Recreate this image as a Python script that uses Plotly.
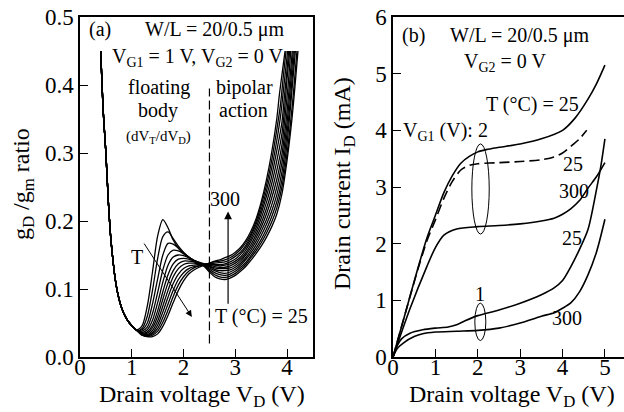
import plotly.graph_objects as go

# ---------------- Panel (a): gD/gm ratio vs drain voltage ----------------
T_LEFT = [25, 50, 75, 100, 125, 150, 175, 200, 225, 250, 275, 300]

GD_START_X = [0.40, 0.45, 0.50, 0.55, 0.60, 0.70, 0.80, 0.90, 1.00]
GD_START_Y = [0.450, 0.360, 0.300, 0.225, 0.170, 0.105, 0.073, 0.056, 0.046]

GD_MID_X = [1.1, 1.2, 1.3, 1.4, 1.5, 1.6, 1.7, 1.8, 1.9, 2.0, 2.1, 2.2, 2.3, 2.4,
            2.5, 2.6, 2.7, 2.8, 2.9, 3.0, 3.1, 3.2, 3.3, 3.4, 3.5, 3.6, 3.7, 3.8]
GD_MID_Y = [
    [.040, .046, .075, .125, .178, .202, .190, .172, .160, .152, .146, .141, .137, .133, .125, .118, .115, .114, .116,
     .120, .126, .133, .142, .152, .163, .176, .191, .210],
    [.039, .042, .060, .098, .145, .177, .184, .174, .163, .154, .147, .142, .138, .134, .127, .121, .118, .117, .119,
     .123, .129, .136, .146, .156, .168, .182, .198, .219],
    [.039, .040, .050, .078, .115, .150, .167, .166, .160, .153, .147, .142, .138, .135, .129, .124, .121, .120, .122,
     .126, .132, .139, .149, .160, .173, .188, .206, .228],
    [.039, .038, .044, .064, .095, .128, .150, .157, .156, .152, .147, .142, .139, .136, .131, .127, .124, .123, .125,
     .129, .135, .143, .153, .165, .179, .195, .214, .238],
    [.039, .036, .040, .054, .080, .110, .135, .147, .150, .149, .146, .142, .139, .136, .133, .129, .127, .127, .128,
     .132, .138, .146, .157, .170, .185, .202, .223, .249],
    [.039, .035, .037, .047, .068, .096, .121, .137, .144, .145, .144, .141, .139, .137, .134, .131, .130, .130, .131,
     .135, .141, .150, .161, .175, .191, .210, .233, .261],
    [.039, .034, .035, .043, .060, .085, .109, .127, .137, .141, .141, .140, .138, .137, .135, .133, .132, .132, .134,
     .138, .144, .153, .165, .180, .197, .218, .243, .274],
    [.039, .034, .033, .039, .053, .075, .098, .118, .130, .136, .138, .138, .137, .136, .136, .135, .134, .135, .137,
     .141, .147, .157, .170, .185, .204, .227, .254, .288],
    [.039, .033, .032, .036, .047, .066, .088, .108, .122, .130, .134, .135, .136, .136, .136, .136, .136, .137, .140,
     .144, .151, .161, .174, .190, .211, .236, .265, .303],
    [.039, .033, .031, .034, .042, .058, .078, .098, .114, .124, .130, .133, .134, .136, .137, .138, .139, .140, .143,
     .148, .154, .164, .178, .195, .217, .244, .277, .318],
    [.039, .032, .030, .032, .038, .051, .069, .089, .106, .118, .126, .131, .134, .136, .138, .140, .141, .143, .146,
     .151, .158, .168, .181, .199, .223, .252, .288, .334],
    [.039, .032, .030, .030, .034, .045, .061, .080, .098, .112, .122, .128, .132, .135, .138, .141, .143, .146, .149,
     .154, .161, .171, .185, .203, .228, .260, .300, .350],
]
GD_TAIL_X = [
    [3.90, 4.00, 4.10, 4.21],
    [3.90, 4.00, 4.10, 4.19],
    [3.90, 4.00, 4.08, 4.16],
    [3.90, 4.00, 4.07, 4.14],
    [3.90, 4.00, 4.06, 4.12],
    [3.90, 4.00, 4.05, 4.10],
    [3.90, 3.97, 4.02, 4.07],
    [3.90, 3.96, 4.00, 4.05],
    [3.90, 3.95, 3.99, 4.03],
    [3.88, 3.94, 4.01],
    [3.87, 3.93, 3.98],
    [3.85, 3.90, 3.96],
]
GD_TAIL_Y = [
    [.240, .290, .355, .450],
    [.250, .300, .370, .450],
    [.260, .315, .380, .450],
    [.272, .330, .385, .450],
    [.285, .345, .395, .450],
    [.298, .362, .405, .450],
    [.312, .360, .400, .450],
    [.328, .372, .410, .450],
    [.345, .385, .415, .450],
    [.358, .400, .450],
    [.370, .415, .450],
    [.385, .415, .450],
]

# ---------------- Panel (b): drain current vs drain voltage ----------------
VG2_25_X = [0, 0.3, 0.6, 0.8, 1.0, 1.2, 1.4, 1.6, 1.8, 2.0, 2.2, 2.5, 3.0, 3.5, 4.0, 4.3, 4.6, 4.8, 5.0]
VG2_25_Y = [0, 0.80, 1.60, 2.10, 2.50, 2.90, 3.20, 3.42, 3.54, 3.62, 3.66, 3.70, 3.76, 3.85, 4.00, 4.22, 4.55, 4.82, 5.15]

VG2_25D_X = [0, 0.3, 0.6, 0.8, 1.0, 1.2, 1.4, 1.6, 1.8, 2.0, 2.5, 3.0, 3.5, 3.8, 4.0, 4.2, 4.4, 4.57]
VG2_25D_Y = [0, 0.80, 1.58, 2.05, 2.42, 2.80, 3.10, 3.30, 3.38, 3.41, 3.43, 3.45, 3.48, 3.53, 3.60, 3.72, 3.85, 4.00]

VG2_300_X = [0, 0.4, 0.8, 1.0, 1.2, 1.5, 2.0, 2.5, 3.0, 3.5, 3.8, 4.0, 4.2, 4.4, 4.6, 4.8, 5.0]
VG2_300_Y = [0, 0.85, 1.60, 1.93, 2.15, 2.26, 2.30, 2.32, 2.35, 2.40, 2.45, 2.52, 2.62, 2.76, 2.98, 3.18, 3.43]

VG1_25_X = [0, 0.1, 0.2, 0.4, 0.7, 1.0, 1.3, 1.5, 1.7, 2.0, 2.5, 3.0, 3.5, 3.8, 4.0, 4.2, 4.4, 4.6, 4.8, 4.9, 5.0]
VG1_25_Y = [0, 0.20, 0.32, 0.42, 0.48, 0.51, 0.53, 0.57, 0.64, 0.73, 0.83, 0.95, 1.10, 1.22, 1.35, 1.60, 1.90, 2.25, 2.95, 3.35, 3.85]

VG1_300_X = [0, 0.1, 0.25, 0.5, 0.7, 1.0, 1.5, 2.0, 2.5, 3.0, 3.5, 3.8, 4.0, 4.2, 4.4, 4.6, 4.8, 5.0]
VG1_300_Y = [0, 0.15, 0.25, 0.36, 0.41, 0.44, 0.455, 0.47, 0.51, 0.60, 0.72, 0.78, 0.86, 0.96, 1.15, 1.45, 1.85, 2.43]

X_TICKS_A = [0, 1, 2, 3, 4]
Y_TICKS_A = [0.0, 0.1, 0.2, 0.3, 0.4, 0.5]
X_TICKS_B = [0, 1, 2, 3, 4, 5]
Y_TICKS_B = [0, 1, 2, 3, 4, 5, 6]

FONT = "Liberation Serif"
BLACK = "#000000"

fig = go.Figure()

for i, t in enumerate(T_LEFT):
    xs = GD_START_X + GD_MID_X + GD_TAIL_X[i]
    ys = GD_START_Y + GD_MID_Y[i] + GD_TAIL_Y[i]
    fig.add_trace(go.Scatter(x=xs, y=ys, mode="lines", name=f"{t} °C",
                             line=dict(color=BLACK, width=1.3, shape="spline", smoothing=0.8),
                             xaxis="x", yaxis="y", showlegend=False))

for xs, ys, dash in [(VG2_25_X, VG2_25_Y, "solid"), (VG2_25D_X, VG2_25D_Y, "10px,5px"),
                     (VG2_300_X, VG2_300_Y, "solid"), (VG1_25_X, VG1_25_Y, "solid"),
                     (VG1_300_X, VG1_300_Y, "solid")]:
    fig.add_trace(go.Scatter(x=xs, y=ys, mode="lines",
                             line=dict(color=BLACK, width=1.6, shape="spline", smoothing=0.8, dash=dash),
                             xaxis="x2", yaxis="y2", showlegend=False))

axis_common = dict(showgrid=False, zeroline=False, showline=True, linecolor=BLACK, linewidth=1.5,
                   mirror=True, ticks="inside", ticklen=8, tickwidth=1.2, tickcolor=BLACK,
                   automargin=False,
                   tickfont=dict(family=FONT, size=23, color=BLACK))

fig.update_layout(
    width=624, height=412,
    margin=dict(l=80, r=0, t=17, b=55),
    paper_bgcolor="white", plot_bgcolor="white",
    font=dict(family=FONT, color=BLACK),
    xaxis=dict(domain=[0, 0.4283], range=[0, 4.5], tickvals=X_TICKS_A, anchor="y",
               ticklabelstandoff=-11, **axis_common),
    yaxis=dict(domain=[0, 1], range=[0, 0.5], tickvals=Y_TICKS_A, tickformat=".1f", anchor="x", **axis_common),
    xaxis2=dict(domain=[0.5754, 1], range=[0, 5.45], tickvals=X_TICKS_B, anchor="y2",
                ticklabelstandoff=-11, **axis_common),
    yaxis2=dict(domain=[0, 1], range=[0, 6], tickvals=Y_TICKS_B, anchor="x2", **axis_common),
)

shapes = [
    dict(type="line", xref="x", yref="y", x0=2.5, x1=2.5, y0=0.02, y1=0.395,
         line=dict(color=BLACK, width=1.2, dash="9px,4px")),
    dict(type="circle", xref="x2", yref="y2", x0=1.86, x1=2.27, y0=2.17, y1=3.76,
         line=dict(color=BLACK, width=1)),
    dict(type="circle", xref="x2", yref="y2", x0=1.93, x1=2.19, y0=0.29, y1=0.95,
         line=dict(color=BLACK, width=1)),
]
fig.update_layout(shapes=shapes)

def txt(x, y, s, xref="x", yref="y", size=20, xanchor="center"):
    return dict(x=x, y=y, xref=xref, yref=yref, text=s, showarrow=False, xanchor=xanchor,
                yanchor="middle", font=dict(family=FONT, size=size, color=BLACK))

ann = [
    txt(0.14, 0.481, "(a)", xanchor="left"),
    txt(1.21, 0.481, "W/L = 20/0.5 μm", xanchor="left"),
    txt(0.58, 0.441, "V<sub>G1</sub> = 1 V, V<sub>G2</sub> = 0 V", xanchor="left"),
    txt(1.53, 0.397, "floating"),
    txt(1.51, 0.363, "body"),
    txt(1.51, 0.324, "(dV<sub>T</sub>/dV<sub>D</sub>)", size=15),
    txt(3.17, 0.397, "bipolar"),
    txt(3.15, 0.363, "action"),
    txt(1.10, 0.147, "T"),
    txt(2.80, 0.232, "300"),
    txt(2.56, 0.059, "T (°C) = 25", xanchor="left"),
    dict(x=2.16, y=0.059, ax=1.22, ay=0.169, xref="x", yref="y", axref="x", ayref="y",
         showarrow=True, arrowhead=2, arrowsize=1.3, arrowwidth=1, arrowcolor=BLACK, text=""),
    dict(x=2.86, y=0.214, ax=2.86, ay=0.076, xref="x", yref="y", axref="x", ayref="y",
         showarrow=True, arrowhead=2, arrowsize=1.3, arrowwidth=1.2, arrowcolor=BLACK, text=""),
    # panel b
    txt(0.16, 5.68, "(b)", xref="x2", yref="y2", xanchor="left"),
    txt(1.3, 5.68, "W/L = 20/0.5 μm", xref="x2", yref="y2", xanchor="left"),
    txt(2.64, 5.2, "V<sub>G2</sub> = 0 V", xref="x2", yref="y2"),
    txt(4.43, 4.46, "T (°C) = 25", xref="x2", yref="y2", xanchor="right"),
    txt(0.18, 3.98, "V<sub>G1</sub> (V): 2", xref="x2", yref="y2", xanchor="left"),
    txt(4.25, 3.40, "25", xref="x2", yref="y2"),
    txt(4.28, 2.93, "300", xref="x2", yref="y2"),
    txt(4.22, 2.10, "25", xref="x2", yref="y2"),
    txt(2.05, 1.12, "1", xref="x2", yref="y2"),
    txt(4.10, 0.68, "300", xref="x2", yref="y2"),
]

# axis titles as annotations placed in paper coordinates
def paper_xy(px, py):
    return (px - 80) / 544.0, (357 - py) / 340.0

for px, py, s, ang in [(202, 396, "Drain voltage V<sub>D</sub> (V)", 0),
                       (512, 396, "Drain voltage V<sub>D</sub> (V)", 0),
                       (23, 184, "g<sub>D</sub> /g<sub>m</sub> ratio", -90),
                       (344, 184, "Drain current I<sub>D</sub> (mA)", -90)]:
    xx, yy = paper_xy(px, py)
    ann.append(dict(x=xx, y=yy, xref="paper", yref="paper", text=s, showarrow=False,
                    textangle=ang, xanchor="center", yanchor="middle",
                    font=dict(family=FONT, size=24, color=BLACK)))

fig.update_layout(annotations=ann)

fig.write_html("out.html", config={"displayModeBar": False},
               post_script="document.body.style.margin='0';document.body.style.padding='0';")
